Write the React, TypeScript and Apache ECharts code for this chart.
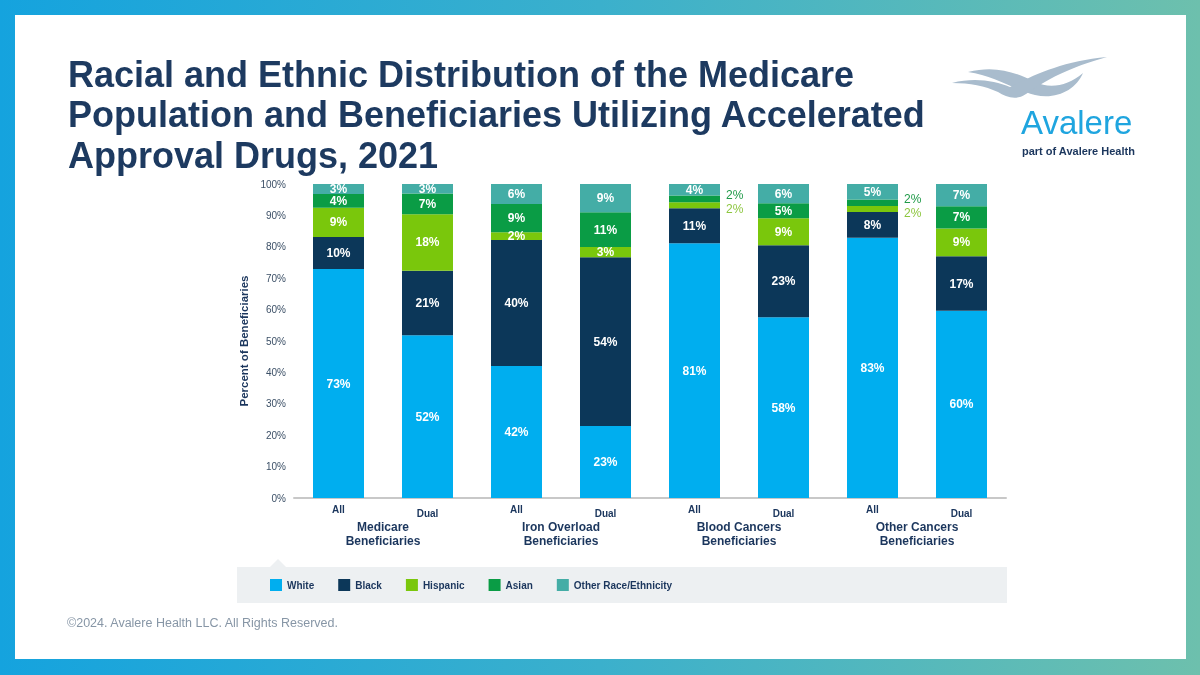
import React, { useEffect, useRef } from "react";
import * as echarts from "echarts";

const categories = ["All", "Dual", "All", "Dual", "All", "Dual", "All", "Dual"];
const groups = [
  "Medicare\nBeneficiaries",
  "Iron Overload\nBeneficiaries",
  "Blood Cancers\nBeneficiaries",
  "Other Cancers\nBeneficiaries",
];
const seriesNames = ["White", "Black", "Hispanic", "Asian", "Other Race/Ethnicity"];
const white = [72.9, 51.8, 42.0, 22.9, 81.1, 57.6, 82.9, 59.6];
const black = [10.2, 20.6, 40.2, 53.8, 11.2, 22.9, 8.2, 17.4];
const hispanic = [9.3, 18.0, 2.4, 3.2, 1.9, 8.6, 1.9, 8.8];
const asian = [4.4, 6.6, 9.0, 11.1, 2.1, 4.8, 2.1, 7.1];
const other = [3.2, 3.0, 6.4, 9.0, 3.7, 6.1, 4.9, 7.1];
const yTicks = [0, 10, 20, 30, 40, 50, 60, 70, 80, 90, 100];
const outsideIdx = [4, 6];

const colors = ["#00aeef", "#0c3759", "#7ac70c", "#0a9c45", "#44ada6"];
const NAVY = "#1b365d";
const FONT = "'Liberation Sans', Arial, Helvetica, sans-serif";

const wave1 =
  "M 968 72 C 995 65 1015 72 1035 82 C 1050 89 1068 86 1083 73 C 1076 90 1056 100 1035 95 C 1015 90 995 76 968 72 Z";
const wave2 =
  "M 952 83 C 975 77 995 81 1010 87 C 1032 76 1062 61 1107 57 C 1070 67 1046 80 1026 94 C 1016 101 1006 97 998 92 C 985 86 970 83 952 83 Z";

export default function App() {
  const ref = useRef<HTMLDivElement>(null);
  useEffect(() => {
    if (!ref.current) return;
    echarts.graphic.registerShape("wave1", echarts.graphic.extendPath(wave1, {}));
    echarts.graphic.registerShape("wave2", echarts.graphic.extendPath(wave2, {}));
    const chart = echarts.init(ref.current, null, { renderer: "svg" });

    const raw = [white, black, hispanic, asian, other];
    const outsideStyles: any[] = [
      null,
      null,
      { color: "#8dc63f", offset: [0, 4] },
      { color: "#1f9a48", offset: [0, -4] },
      null,
    ];

    const series = raw.map((arr, si) => ({
      name: seriesNames[si],
      type: "bar",
      stack: "total",
      barWidth: 51,
      itemStyle: { color: colors[si] },
      label: {
        show: true,
        position: "inside",
        color: "#ffffff",
        fontWeight: "bold",
        fontSize: 12,
        fontFamily: FONT,
        formatter: (p: any) => Math.round(p.value) + "%",
      },
      data: arr.map((v, i) => {
        const os = outsideStyles[si];
        if (os && outsideIdx.includes(i)) {
          return {
            value: v,
            label: {
              position: "right",
              distance: 6,
              color: os.color,
              fontWeight: "normal",
              fontSize: 12,
              lineHeight: 12,
              offset: os.offset,
            },
          };
        }
        return v;
      }),
    }));

    chart.setOption({
      animation: false,
      textStyle: { fontFamily: FONT },
      title: {
        text: "Racial and Ethnic Distribution of the Medicare\nPopulation and Beneficiaries Utilizing Accelerated\nApproval Drugs, 2021",
        left: 63,
        top: 49,
        textStyle: {
          fontSize: 36,
          fontWeight: "bold",
          color: "#1d3a60",
          lineHeight: 40.5,
          fontFamily: FONT,
        },
      },
      grid: { left: 294, right: 194, top: 184, bottom: 177, containLabel: false },
      legend: {
        data: seriesNames,
        left: 270,
        top: 579,
        padding: 0,
        icon: "rect",
        itemWidth: 12,
        itemHeight: 12,
        itemGap: 24,
        textStyle: { fontSize: 10, fontWeight: "bold", color: NAVY, fontFamily: FONT },
      },
      xAxis: [
        {
          type: "category",
          data: categories,
          axisLine: { lineStyle: { color: "#c8c8c8", width: 2 } },
          axisTick: { show: false },
          axisLabel: {
            margin: 6,
            interval: 0,
            formatter: (v: string, i: number) => (i % 2 === 0 ? `{a|${v}}` : `{d|${v}}`),
            rich: {
              a: { fontSize: 10, fontWeight: "bold", color: NAVY, fontFamily: FONT, padding: [0, 0, 0, 0] },
              d: { fontSize: 10, fontWeight: "bold", color: NAVY, fontFamily: FONT, padding: [4, 0, 0, 0] },
            },
          },
        },
        {
          type: "category",
          data: groups,
          position: "bottom",
          offset: 16,
          axisLine: { show: false },
          axisTick: { show: false },
          axisLabel: {
            margin: 6,
            interval: 0,
            fontSize: 12,
            lineHeight: 14,
            fontWeight: "bold",
            color: NAVY,
            fontFamily: FONT,
          },
        },
      ],
      yAxis: {
        type: "value",
        min: yTicks[0],
        max: yTicks[yTicks.length - 1],
        interval: 10,
        name: "Percent of Beneficiaries",
        nameLocation: "middle",
        nameRotate: 90,
        nameGap: 28,
        nameTextStyle: { fontSize: 11.5, fontWeight: "bold", color: NAVY, fontFamily: FONT },
        axisLine: { show: false },
        axisTick: { show: false },
        splitLine: { show: false },
        axisLabel: { formatter: "{value}%", fontSize: 10, color: "#3b4f66", margin: 8, fontFamily: FONT },
      },
      graphic: [
        {
          type: "rect",
          z: -10,
          silent: true,
          shape: { x: 0, y: 0, width: 1200, height: 675 },
          style: {
            fill: new echarts.graphic.LinearGradient(0, 0, 1, 0, [
              { offset: 0, color: "#15a3de" },
              { offset: 0.5, color: "#3bb0cc" },
              { offset: 1, color: "#6dc0ad" },
            ]),
          },
        },
        {
          type: "rect",
          z: -9,
          silent: true,
          shape: { x: 15, y: 15, width: 1171, height: 644 },
          style: { fill: "#ffffff" },
        },
        {
          type: "rect",
          z: -8,
          silent: true,
          shape: { x: 237, y: 567, width: 770, height: 36 },
          style: { fill: "#edf0f2" },
        },
        {
          type: "polygon",
          z: -8,
          silent: true,
          shape: { points: [[270, 567], [278, 559], [286, 567]] },
          style: { fill: "#edf0f2" },
        },
        { type: "wave1", z: 5, silent: true, style: { fill: "#a9bccd" } },
        { type: "wave2", z: 5, silent: true, style: { fill: "#a9bccd" } },
        {
          type: "text",
          z: 5,
          x: 1021,
          y: 122,
          style: {
            text: "Avalere",
            fontSize: 33,
            fontFamily: FONT,
            fill: "#1fa5df",
            verticalAlign: "middle",
          },
        },
        {
          type: "text",
          z: 5,
          x: 1022,
          y: 151,
          style: {
            text: "part of Avalere Health",
            fontSize: 11,
            fontWeight: "bold",
            fontFamily: FONT,
            fill: NAVY,
            verticalAlign: "middle",
          },
        },
        {
          type: "text",
          z: 5,
          x: 67,
          y: 623,
          style: {
            text: "\u00a92024. Avalere Health LLC. All Rights Reserved.",
            fontSize: 12.5,
            fontFamily: FONT,
            fill: "#8796a6",
            verticalAlign: "middle",
          },
        },
      ],
      series,
    });
    return () => chart.dispose();
  }, []);
  return (
    <div
      ref={ref}
      style={{ position: "fixed", left: 0, top: 0, width: 1200, height: 675 }}
    />
  );
}
